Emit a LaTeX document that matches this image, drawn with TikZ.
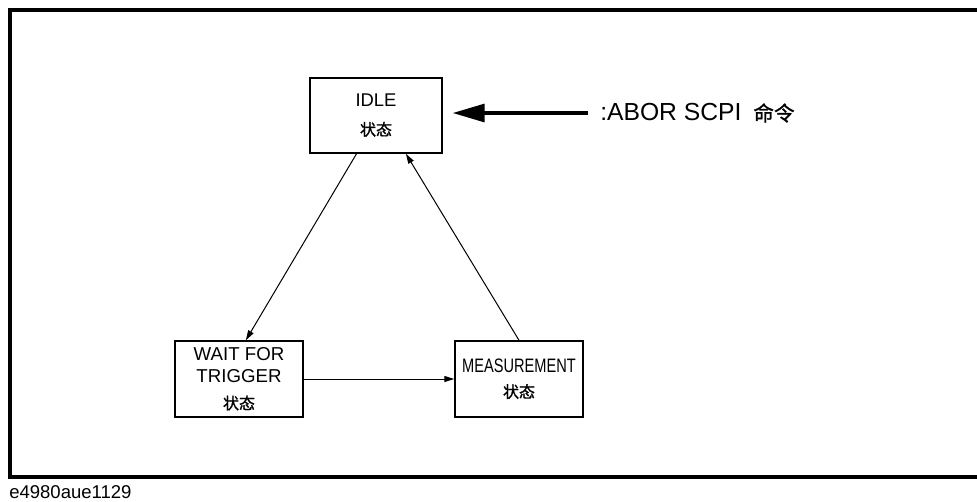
\documentclass[tikz,border=0pt]{standalone}
\usepackage{fontspec}
\setmainfont{Liberation Sans}
\newfontfamily\cjk{Noto Sans CJK SC}[FakeBold=1.2]
\newfontfamily\narrowsans{Liberation Sans}[FakeStretch=0.75]
\usetikzlibrary{arrows.meta}

\newcommand{\zt}[1][12]{{\cjk\fontsize{#1}{#1}\selectfont 状态}}

\begin{document}
\begin{tikzpicture}[x=0.75pt, y=-0.75pt,
  statebox/.style={draw, line width=1.1pt, inner sep=0pt, align=center,
                   minimum width=96pt, minimum height=57pt},
  arr/.style={-{Triangle[length=7.5pt,width=4.5pt]}, line width=0.75pt},
  bigarr/.style={-{Triangle[length=24pt,width=13.5pt]}, line width=2.4pt},
  frame/.style={line width=3pt}
]
\useasboundingbox (0,0) rectangle (977,501);

%% ── outer frame ─────────────────────────────────────────────────────────
\draw[frame] (995,10) -- (10,10) -- (10,477) -- (995,477);

%% ── states ──────────────────────────────────────────────────────────────
\node[statebox, minimum width=99pt, minimum height=56.25pt,
      font=\fontsize{13.8}{21.4}\selectfont] (idle) at (376,115.5)
      {IDLE\\ \zt};
\node[statebox, font=\fontsize{14}{16.5}\selectfont] (wait) at (239,379)
      {WAIT FOR\\ TRIGGER\\[3.4pt] \zt};
\node[statebox, font=\narrowsans\fontsize{14.6}{18.75}\selectfont] (meas) at (519,379)
      {MEASUREMENT\\ \zt};

%% command label
\node[anchor=west, inner sep=0pt, font=\fontsize{18.5}{18.5}\selectfont] (abor) at (600,113)
      {:ABOR SCPI\hspace{9pt}{\cjk\fontsize{15.4}{15.4}\selectfont 命令}};

%% figure id
\node[anchor=west, inner sep=0pt, font=\fontsize{13.9}{13.9}\selectfont] (figid) at (9,492)
      {e4980aue1129};

%% ── transitions ─────────────────────────────────────────────────────────
\draw[arr] (idle.243) -- (wait.80);
\draw[arr] (wait) -- (meas);
\draw[arr] (meas.north) -- (idle.-52);

% abort command
\draw[bigarr, shorten <=9pt, shorten >=7.5pt] (abor.west) -- (abor.west -| idle.east);

\end{tikzpicture}
\end{document}
